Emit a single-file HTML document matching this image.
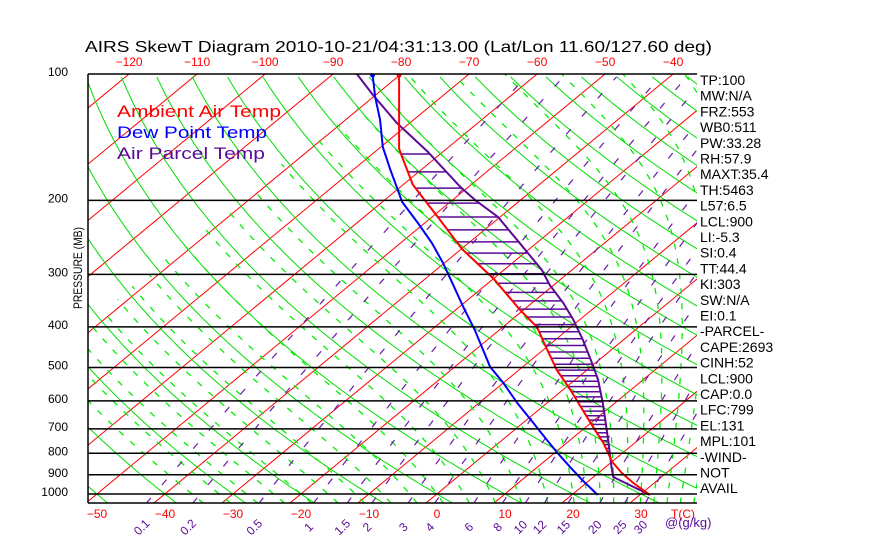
<!DOCTYPE html>
<html><head><meta charset="utf-8"><style>
html,body{margin:0;padding:0;background:#fff;}
svg{display:block;font-family:"Liberation Sans",sans-serif;}
</style></head><body>
<svg id="chart" width="870" height="560" viewBox="0 0 870 560" xmlns="http://www.w3.org/2000/svg">
<defs><clipPath id="plotclip"><rect x="88" y="74" width="609" height="429"/></clipPath></defs>
<rect width="870" height="560" fill="#fff"/>
<text x="85" y="52" font-size="16" textLength="627" lengthAdjust="spacingAndGlyphs">AIRS SkewT Diagram 2010-10-21/04:31:13.00 (Lat/Lon 11.60/127.60 deg)</text>
<g id="grid" clip-path="url(#plotclip)"></g>
<g id="hatch" clip-path="url(#plotclip)"></g>
<g id="profiles" clip-path="url(#plotclip)"></g>
<g id="frame"></g>
<g id="labels"></g>
<text x="117" y="117" font-size="17" fill="#ff0000" textLength="164" lengthAdjust="spacingAndGlyphs">Ambient Air Temp</text>
<text x="117" y="138" font-size="17" fill="#0000ff" textLength="150" lengthAdjust="spacingAndGlyphs">Dew Point Temp</text>
<text x="117" y="159" font-size="17" fill="#5b0a96" textLength="148" lengthAdjust="spacingAndGlyphs">Air Parcel Temp</text>
<text transform="translate(82,268) rotate(-90)" text-anchor="middle" font-size="12" textLength="82" lengthAdjust="spacingAndGlyphs">PRESSURE (MB)</text>
<g id="panel" font-size="14"></g>
</svg>
<script>
// ---- data ----
const isobars = [100,200,300,400,500,600,700,800,900,1000];
const isotherms = [-160,-150,-140,-130,-120,-110,-100,-90,-80,-70,-60,-50,-40,-30,-20,-10,0,10,20,30,40];
const bottomTempLabels = [-50,-40,-30,-20,-10,0,10,20,30];
const topTempLabels = [-120,-110,-100,-90,-80,-70,-60,-50,-40];
const dryAdiabats = [-80,-70,-60,-50,-40,-30,-20,-10,0,10,20,30,40,50,60,70,80,90,100,110,120,130,140,150,160,170,180,190,200];
const moistAdiabats = [-36,-32,-28,-24,-20,-16,-12,-8,-4,0,4,8,12,16,20,22,24,26,28,30,32,34,36,38,40,42,44];
const mixingRatios = [0.1,0.2,0.5,1,1.5,2,3,4,6,8,10,12,15,20,25,30];
const mixingLabels = ["0.1","0.2","0.5","1","1.5","2","3","4","6","8","10","12","15","20","25","30"];
const envP = [100,150.6,155.7,183.4,200,219.2,261,307,364.7,400.4,454,507,565,631,692,756,839,892,941,1005];
const envT = [-80.3,-67.0,-65.6,-58.6,-54.0,-49.1,-39.9,-30.0,-20.5,-15.0,-9.4,-4.4,1.1,6.5,11.0,15.4,20.1,23.5,26.9,31.5];
const dewP = [100,113.5,128.7,149.2,169.2,186.8,201.6,226.4,252.6,281.9,323.6,358.7,407,498,544,607,677,744,798,863,928,1005];
const dewT = [-84.2,-79.7,-74.9,-69.7,-64.5,-60.3,-57.1,-51.0,-45.4,-40.2,-34.0,-29.4,-23.6,-14.8,-10.0,-4.4,1.5,6.6,10.4,14.8,19.0,23.8];
const parcelP = [100,112.2,130.8,153,185.7,199.5,219,253,293,318,351,385,430,498,535,607,744,863,911,1005];
const parcelT = [-86.5,-80.4,-71.9,-62.3,-51.2,-46.7,-40.3,-32.4,-24.4,-20.6,-15.4,-10.9,-5.9,0.4,3.4,8.2,15.6,20.9,22.9,31.5];
const panelLines = ["TP:100","MW:N/A","FRZ:553","WB0:511","PW:33.28","RH:57.9","MAXT:35.4","TH:5463","L57:6.5","LCL:900","LI:-5.3","SI:0.4","TT:44.4","KI:303","SW:N/A","EI:0.1","-PARCEL-","CAPE:2693","CINH:52","LCL:900","CAP:0.0","LFC:799","EL:131","MPL:101","-WIND-","NOT","AVAIL"];

// ---- axes ----
const NS="http://www.w3.org/2000/svg";
const TOP=74,BOT=503,LEFT=88,RIGHT=697,K=182.4,X0=426,DX=6.8,SK=1.21;
function yP(p){return TOP+K*Math.log(p/100);}
function pY(y){return 100*Math.exp((y-TOP)/K);}
function xT(T,p){return X0+DX*T+SK*(BOT-yP(p));}
function mk(tag,attrs,parent){const e=document.createElementNS(NS,tag);for(const k in attrs)e.setAttribute(k,attrs[k]);parent.appendChild(e);return e;}
function pathFrom(pts){return pts.map((q,i)=>(i?'L':'M')+q[0].toFixed(1)+' '+q[1].toFixed(1)).join(' ');}
function es(Tc){return 6.112*Math.exp(17.67*Tc/(Tc+243.5));}
const grid=document.getElementById('grid');
const PTOP=99, PBOT=pY(BOT)+1;

isotherms.forEach(T=>{
  const l=mk('line',{x1:xT(T,PBOT),y1:yP(PBOT),x2:xT(T,PTOP),y2:yP(PTOP),stroke:'#ff0000','stroke-width':1},grid);
  
  
});
dryAdiabats.forEach(th=>{
  const pts=[];
  for(let p=PBOT;p>=PTOP;p-=5){const T=(th+273.15)*Math.pow(p/1000,0.2857)-273.15;pts.push([xT(T,p),yP(p)]);}
  const e=mk('path',{d:pathFrom(pts),fill:'none',stroke:'#00dd00','stroke-width':1},grid);
  
  
});
function moistPath(T0){
  const Rd=287,cp=1004,Lv=2.5e6,eps=0.622;
  function dTdlnp(T,p){const Tk=T+273.15;const e=es(T);const rs=eps*e/(p-e);return (Rd*Tk+Lv*rs)/(cp+Lv*Lv*rs*eps/(Rd*Tk*Tk));}
  const pts=[];let T=T0,p=1000;
  let Td=T0,pd=1000;const down=[];
  while(pd<PBOT){const dl=Math.log((pd+2)/pd);Td+=dTdlnp(Td,pd)*dl;pd+=2;down.push([xT(Td,pd),yP(pd)]);}
  down.reverse().forEach(q=>pts.push(q));
  pts.push([xT(T,p),yP(p)]);
  while(p>PTOP){const np=p-4;const dl=Math.log(np/p);T+=dTdlnp(T,p)*dl;p=np;if(T<-82)break;pts.push([xT(T,p),yP(p)]);}
  return pts;
}
moistAdiabats.forEach(t=>{
  const e=mk('path',{d:pathFrom(moistPath(t)),fill:'none',stroke:'#00ee00','stroke-width':1.3,'stroke-dasharray':'6 9'},grid);
  
  
});
function tForW(w,p){const e=w*p/(622+w);const a=Math.log(e/6.112);return 243.5*a/(17.67-a);}
mixingRatios.forEach(w=>{
  const pts=[];
  for(let p=PBOT;p>=PTOP;p-=5){pts.push([xT(tForW(w,p),p),yP(p)]);}
  const e=mk('path',{d:pathFrom(pts),fill:'none',stroke:'#6a1aa8','stroke-width':1.2,'stroke-dasharray':'7 17'},grid);
  
  
});
isobars.forEach(p=>{
  const l=mk('line',{x1:LEFT,x2:RIGHT,y1:yP(p),y2:yP(p),stroke:'#000','stroke-width':1.5},document.getElementById('frame'));
  
  
});
const fr=document.getElementById('frame');
const bl=mk('line',{x1:LEFT,x2:RIGHT,y1:BOT,y2:BOT,stroke:'#000','stroke-width':1.5},fr);


const ll=mk('line',{x1:LEFT,x2:LEFT,y1:TOP,y2:BOT,stroke:'#000','stroke-width':1.5},fr);



function interp(P,V,p){const lp=Math.log(p);for(let i=0;i<P.length-1;i++){const a=Math.log(P[i]),b=Math.log(P[i+1]);if(lp>=a&&lp<=b){return V[i]+(V[i+1]-V[i])*(lp-a)/(b-a);}}return null;}
const hg=document.getElementById('hatch');
for(let p=795;p>=145;p-=16){
  const te=interp(envP,envT,p),tp=interp(parcelP,parcelT,p);
  if(te===null||tp===null||tp<=te)continue;
  const l=mk('line',{x1:xT(te,p),x2:xT(tp,p),y1:yP(p),y2:yP(p),stroke:'#5b0a96','stroke-width':1.5},hg);
  
  
}
const pg=document.getElementById('profiles');
function profile(P,T,color,name){
  const e=mk('path',{d:pathFrom(P.map((p,i)=>[xT(T[i],p),yP(p)])),fill:'none',stroke:color,'stroke-width':2},pg);
  
  
}
profile(parcelP,parcelT,'#5b0a96','parcel-temp-line');
profile(dewP,dewT,'#0000ff','dew-point-line');
profile(envP,envT,'#ff0000','ambient-temp-line');
const d1=mk('circle',{cx:xT(envT[0],envP[0]),cy:yP(envP[0])+1,r:2.5,fill:'#ff0000'},pg);


const d2=mk('circle',{cx:xT(dewT[0],dewP[0]),cy:yP(dewP[0])+1,r:2.5,fill:'#0000ff'},pg);



const lg=document.getElementById('labels');
isobars.forEach(p=>{
  const t=mk('text',{x:68,y:yP(p)+2,'font-size':12,'text-anchor':'end'},lg);t.textContent=p;
  
  
});
bottomTempLabels.forEach(T=>{
  const t=mk('text',{x:xT(T,pY(BOT))+11,y:518,'font-size':12,'text-anchor':'middle',fill:'#ff0000'},lg);t.textContent=(T<0?'\u2212'+(-T):T);
  
  
});
const tc=mk('text',{x:683,y:518,'font-size':12,'text-anchor':'middle',fill:'#ff0000'},lg);tc.textContent='T(C)';


topTempLabels.forEach(T=>{
  const t=mk('text',{x:xT(T,100),y:66,'font-size':12,'text-anchor':'middle',fill:'#ff0000'},lg);t.textContent='\u2212'+(-T);
  
  
});
mixingRatios.forEach((w,i)=>{
  const x=xT(tForW(w,pY(BOT)),pY(BOT));
  const t=mk('text',{transform:'translate('+(x-2).toFixed(1)+',530) rotate(-45)','font-size':12,'text-anchor':'middle',fill:'#5b0a96'},lg);t.textContent=mixingLabels[i];
  
  
});
const gk=mk('text',{x:665,y:527,'font-size':13,fill:'#5b0a96'},lg);gk.textContent='@(g/kg)';


const pn=document.getElementById('panel');
panelLines.forEach((s,i)=>{
  const t=mk('text',{x:700,y:85+i*15.7},pn);t.textContent=s;
  
  
});
</script>
</body></html>
